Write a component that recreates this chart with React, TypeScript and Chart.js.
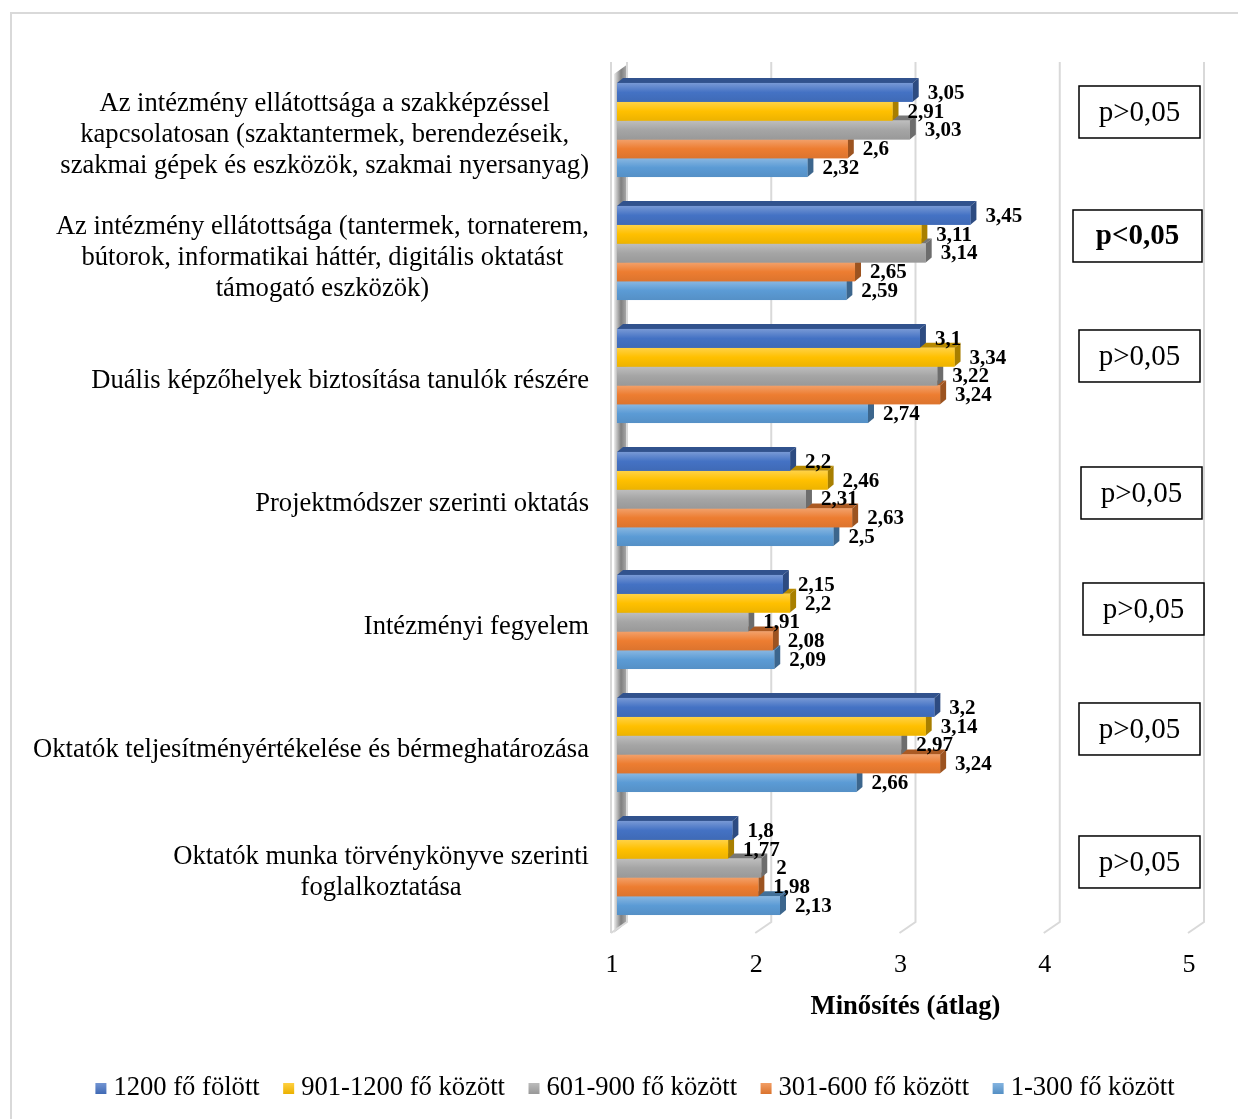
import React, { useEffect, useRef } from 'react';
import { Chart, registerables } from 'chart.js';

Chart.register(...registerables);

// ---------- DATA ----------
const categories: string[][] = [
  ['Az intézmény ellátottsága a szakképzéssel', 'kapcsolatosan (szaktantermek, berendezéseik,', 'szakmai gépek és eszközök, szakmai nyersanyag)'],
  ['Az intézmény ellátottsága (tantermek, tornaterem,', 'bútorok, informatikai háttér, digitális oktatást', 'támogató eszközök)'],
  ['Duális képzőhelyek biztosítása tanulók részére'],
  ['Projektmódszer szerinti oktatás'],
  ['Intézményi fegyelem'],
  ['Oktatók teljesítményértékelése és bérmeghatározása'],
  ['Oktatók munka törvénykönyve szerinti', 'foglalkoztatása'],
];

const seriesNames = ['1200 fő fölött', '901-1200 fő között', '601-900 fő között', '301-600 fő között', '1-300 fő között'];

const over1200 = [3.05, 3.45, 3.1, 2.2, 2.15, 3.2, 1.8];
const from901to1200 = [2.91, 3.11, 3.34, 2.46, 2.2, 3.14, 1.77];
const from601to900 = [3.03, 3.14, 3.22, 2.31, 1.91, 2.97, 2];
const from301to600 = [2.6, 2.65, 3.24, 2.63, 2.08, 3.24, 1.98];
const from1to300 = [2.32, 2.59, 2.74, 2.5, 2.09, 2.66, 2.13];

const xTicks = [1, 2, 3, 4, 5];
const axisTitle = 'Minősítés (átlag)';

const pLabels = ['p>0,05', 'p<0,05', 'p>0,05', 'p>0,05', 'p>0,05', 'p>0,05', 'p>0,05'];
const pBold = [false, true, false, false, false, false, false];

// ---------- STYLE ----------
const FONT = "'Liberation Serif', 'Times New Roman', Times, serif";
const colors = ['#4472C4', '#FFC000', '#A5A5A5', '#ED7D31', '#5B9BD5'];
const pBoxX = [1079, 1073, 1079, 1081, 1083, 1079, 1079];
const pBoxW = [121, 129, 121, 121, 121, 121, 121];
const pBoxDy = [-44, -43, -46, -32, -39, -42, -32];
const pBoxH = 52;
const DX = 6;
const DY = 5;
const legendCenterX = 635;
const legendY = 1088.5;

function rgb(h: string) {
  const n = parseInt(h.slice(1), 16);
  return [(n >> 16) & 255, (n >> 8) & 255, n & 255];
}
function shade(h: string, f: number) {
  const [r, g, b] = rgb(h);
  return `rgb(${Math.round(r * f)},${Math.round(g * f)},${Math.round(b * f)})`;
}
function tint(h: string, t: number) {
  const [r, g, b] = rgb(h);
  return `rgb(${Math.round(r + (255 - r) * t)},${Math.round(g + (255 - g) * t)},${Math.round(b + (255 - b) * t)})`;
}

const fmt = (v: number) => String(v).replace('.', ',');

const bar3d = {
  id: 'bar3d',
  beforeDraw(chart: any) {
    const ctx = chart.ctx;
    ctx.save();
    ctx.fillStyle = '#ffffff';
    ctx.fillRect(0, 0, chart.width, chart.height);
    ctx.strokeStyle = '#D9D9D9';
    ctx.lineWidth = 2;
    ctx.strokeRect(11, 13, chart.width + 100, chart.height + 100);
    ctx.restore();
  },
  beforeDatasetsDraw(chart: any) {
    const ctx = chart.ctx;
    const xs = chart.scales.x;
    const ca = chart.chartArea;
    const top = ca.top - 6.5;
    const bottom = ca.bottom + 3.5;
    ctx.save();
    // side wall
    const wl = xs.getPixelForValue(1) - 3;
    const g = ctx.createLinearGradient(wl, 0, wl + 14, 0);
    g.addColorStop(0, '#EDEDED');
    g.addColorStop(0.5, '#7F7F7F');
    g.addColorStop(1, '#B5B5B5');
    ctx.fillStyle = g;
    ctx.beginPath();
    ctx.moveTo(wl, top + 12);
    ctx.lineTo(wl + 14, top + 2);
    ctx.lineTo(wl + 14, bottom - 12);
    ctx.lineTo(wl, bottom);
    ctx.closePath();
    ctx.fill();
    ctx.strokeStyle = '#D9D9D9';
    ctx.lineWidth = 2;
    ctx.beginPath();
    ctx.moveTo(wl - 3, top);
    ctx.lineTo(wl - 3, bottom);
    ctx.stroke();
    // gridlines
    ctx.strokeStyle = '#D9D9D9';
    ctx.lineWidth = 2;
    xTicks.forEach((v) => {
      const gx = xs.getPixelForValue(v) + 10;
      ctx.beginPath();
      ctx.moveTo(gx, top);
      ctx.lineTo(gx, bottom - 11);
      ctx.lineTo(gx - 16, bottom);
      ctx.stroke();
    });
    ctx.restore();
  },
  afterDatasetDraw(chart: any, args: any) {
    const ctx = chart.ctx;
    const meta = args.meta;
    const col = colors[args.index];
    ctx.save();
    meta.data.forEach((el: any) => {
      const { x, y, base, height } = el.getProps(['x', 'y', 'base', 'height'], true);
      const t = y - height / 2;
      const b = y + height / 2;
      // top face
      ctx.fillStyle = shade(col, 0.72);
      ctx.beginPath();
      ctx.moveTo(base, t);
      ctx.lineTo(base + DX, t - DY);
      ctx.lineTo(x + DX, t - DY);
      ctx.lineTo(x, t);
      ctx.closePath();
      ctx.fill();
      // side face
      ctx.fillStyle = shade(col, 0.66);
      ctx.beginPath();
      ctx.moveTo(x, t);
      ctx.lineTo(x + DX, t - DY);
      ctx.lineTo(x + DX, b - DY);
      ctx.lineTo(x, b);
      ctx.closePath();
      ctx.fill();
      // front face
      const gr = ctx.createLinearGradient(0, t, 0, b);
      gr.addColorStop(0, tint(col, 0.28));
      gr.addColorStop(0.5, col);
      gr.addColorStop(1, shade(col, 0.93));
      ctx.fillStyle = gr;
      ctx.fillRect(base, t, x - base, height);
    });
    ctx.restore();
  },
  afterDatasetsDraw(chart: any) {
    const ctx = chart.ctx;
    ctx.save();
    ctx.fillStyle = '#000';
    ctx.font = `bold 21px ${FONT}`;
    ctx.textAlign = 'left';
    ctx.textBaseline = 'middle';
    chart.data.datasets.forEach((ds: any, di: number) => {
      const meta = chart.getDatasetMeta(di);
      meta.data.forEach((el: any, i: number) => {
        const { x, y } = el.getProps(['x', 'y'], true);
        ctx.fillText(fmt(ds.data[i]), x + 15, y + 1);
      });
    });
    ctx.restore();
  },
  afterDraw(chart: any) {
    const ctx = chart.ctx;
    const ys = chart.scales.y;
    const ca = chart.chartArea;
    ctx.save();
    // category labels
    ctx.fillStyle = '#000';
    ctx.font = `26.6px ${FONT}`;
    ctx.textAlign = 'center';
    ctx.textBaseline = 'middle';
    const right = ca.left - 28;
    categories.forEach((lines, i) => {
      const cy = ys.getPixelForValue(i) + 5;
      const maxW = Math.max(...lines.map((l) => ctx.measureText(l).width));
      const cx = right - maxW / 2;
      lines.forEach((l, k) => {
        ctx.fillText(l, cx, cy + (k - (lines.length - 1) / 2) * 31);
      });
    });
    // p boxes
    pLabels.forEach((txt, i) => {
      const cy = ys.getPixelForValue(i);
      const bx = pBoxX[i];
      const by = cy + pBoxDy[i];
      ctx.fillStyle = '#fff';
      ctx.fillRect(bx, by, pBoxW[i], pBoxH);
      ctx.strokeStyle = '#000';
      ctx.lineWidth = 1.5;
      ctx.strokeRect(bx, by, pBoxW[i], pBoxH);
      ctx.fillStyle = '#000';
      ctx.font = `${pBold[i] ? 'bold ' : ''}29px ${FONT}`;
      ctx.textAlign = 'center';
      ctx.fillText(txt, bx + pBoxW[i] / 2, by + pBoxH / 2 + 1);
    });
    // legend
    ctx.font = `26.6px ${FONT}`;
    ctx.textAlign = 'left';
    const box = 11;
    const gap = 7;
    const spacing = 23.5;
    const widths = chart.data.datasets.map((ds: any) => box + gap + ctx.measureText(ds.label).width);
    const total = widths.reduce((a: number, b: number) => a + b, 0) + spacing * (widths.length - 1);
    let lx = legendCenterX - total / 2;
    chart.data.datasets.forEach((ds: any, i: number) => {
      const col = colors[i];
      const gr = ctx.createLinearGradient(0, legendY - box / 2, 0, legendY + box / 2);
      gr.addColorStop(0, tint(col, 0.25));
      gr.addColorStop(1, shade(col, 0.92));
      ctx.fillStyle = gr;
      ctx.fillRect(lx, legendY - box / 2, box, box);
      ctx.fillStyle = '#000';
      ctx.fillText(ds.label, lx + box + gap, legendY);
      lx += widths[i] + spacing;
    });
    ctx.restore();
  },
};

export default function App() {
  const ref = useRef<HTMLCanvasElement | null>(null);

  useEffect(() => {
    if (!ref.current) return;
    const seriesData = [over1200, from901to1200, from601to900, from301to600, from1to300];
    const chart = new Chart(ref.current, {
      type: 'bar',
      data: {
        labels: categories.map((c) => c.join(' ')),
        datasets: seriesNames.map((name, i) => ({
          label: name,
          data: seriesData[i],
          backgroundColor: colors[i],
          base: 1,
          categoryPercentage: 0.765,
          barPercentage: 1,
        })),
      },
      options: {
        indexAxis: 'y',
        responsive: false,
        animation: false,
        events: [],
        layout: { padding: { left: 617, right: 44, top: 68.5, bottom: 86.4 } },
        plugins: {
          legend: { display: false },
          tooltip: { enabled: false },
          title: { display: false },
        },
        scales: {
          x: {
            type: 'linear',
            min: 1,
            max: 5,
            position: 'bottom',
            grid: { display: false, drawTicks: false },
            border: { display: false },
            afterBuildTicks: (s: any) => {
              s.ticks = xTicks.map((v) => ({ value: v }));
            },
            ticks: {
              padding: 20,
              labelOffset: -5,
              color: '#000',
              font: { family: FONT, size: 26, lineHeight: 1.2 },
              callback: (v: any) => String(v),
            },
            title: {
              display: true,
              text: axisTitle,
              color: '#000',
              font: { family: FONT, size: 26.6, weight: 'bold', lineHeight: 1.2 },
              padding: { top: -10, bottom: 10 },
            },
          },
          y: {
            type: 'category',
            display: false,
          },
        },
      } as any,
      plugins: [bar3d],
    });
    return () => chart.destroy();
  }, []);

  return (
    <div style={{ position: 'absolute', left: 0, top: 0, width: 1238, height: 1119, overflow: 'hidden', background: '#fff' }}>
      <canvas ref={ref} width={1238} height={1119} style={{ display: 'block' }} />
    </div>
  );
}
